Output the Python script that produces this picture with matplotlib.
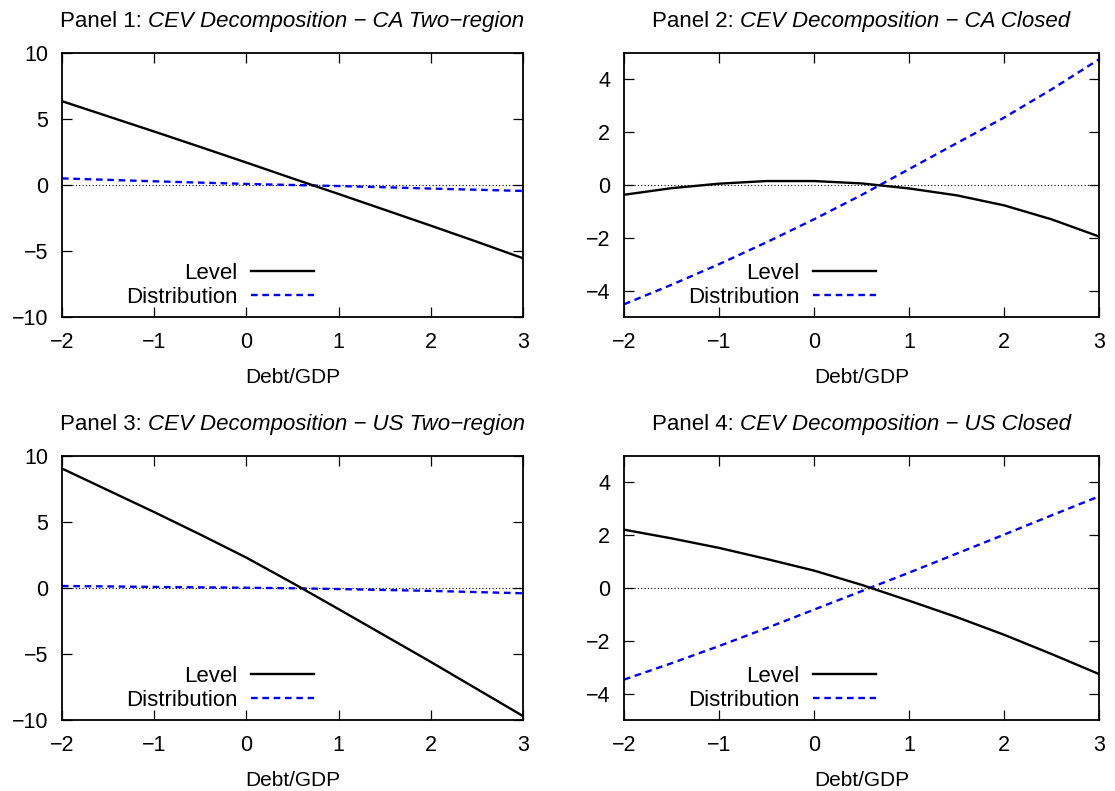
import numpy as np
import matplotlib
matplotlib.use("Agg")
import matplotlib.pyplot as plt
from matplotlib.offsetbox import TextArea, HPacker, AnchoredOffsetbox

plt.rcParams['font.family'] = ['Liberation Sans', 'DejaVu Sans']
plt.rcParams['font.size'] = 16

debt_gdp = [-2.0, -1.5, -1.0, -0.5, 0.0, 0.5, 1.0, 1.5, 2.0, 2.5, 3.0]

ca_two_level = [6.35, 5.2, 4.05, 2.88, 1.7, 0.5, -0.68, -1.88, -3.08, -4.3, -5.55]
ca_two_dist = [0.5, 0.39, 0.28, 0.18, 0.08, 0.0, -0.08, -0.17, -0.27, -0.36, -0.45]

ca_closed_level = [-0.37, -0.12, 0.05, 0.15, 0.15, 0.06, -0.13, -0.39, -0.77, -1.3, -1.95]
ca_closed_dist = [-4.52, -3.78, -3.0, -2.17, -1.3, -0.38, 0.6, 1.58, 2.55, 3.62, 4.76]

us_two_level = [9.05, 7.4, 5.75, 4.05, 2.3, 0.38, -1.6, -3.6, -5.6, -7.65, -9.7]
us_two_dist = [0.15, 0.12, 0.08, 0.05, 0.02, -0.02, -0.08, -0.15, -0.22, -0.31, -0.4]

us_closed_level = [2.21, 1.88, 1.52, 1.1, 0.66, 0.12, -0.48, -1.1, -1.77, -2.5, -3.26]
us_closed_dist = [-3.47, -2.85, -2.2, -1.52, -0.82, -0.12, 0.58, 1.3, 2.02, 2.75, 3.47]

panel_names = ["CA Two\u2212region", "CA Closed", "US Two\u2212region", "US Closed"]
x_ticks = [-2, -1, 0, 1, 2, 3]
wide_ticks = [-10, -5, 0, 5, 10]
narrow_ticks = [-4, -2, 0, 2, 4]

W, H = 1115, 791
# axes boxes in pixels: left, top, right, bottom
_BOXES = [
    (62, 53, 523, 317),
    (624, 53, 1099, 317),
    (62, 456, 523, 720),
    (624, 456, 1099, 720),
]


def _px_axes(fig, box):
    l, t, r, b = box
    return fig.add_axes([l / W, 1 - b / H, (r - l) / W, (b - t) / H])


def _title(ax, n, name):
    first = TextArea(f"Panel {n}: ", textprops=dict(fontsize=16))
    second = TextArea(f"CEV Decomposition \u2212 {name}",
                      textprops=dict(fontsize=16, style='italic'))
    box = HPacker(children=[first, second], align='baseline', pad=0, sep=0)
    anchored = AnchoredOffsetbox(loc='lower center', child=box, pad=0, borderpad=0,
                                 frameon=False, bbox_to_anchor=(0.5, 1.08),
                                 bbox_transform=ax.transAxes)
    ax.add_artist(anchored)


def _panel(fig, box, n, name, level, dist, yticks, ylim):
    ax = _px_axes(fig, box)
    ax.axhline(0, color='k', lw=0.8, linestyle=(0, (1, 2)), zorder=1)
    ax.plot(debt_gdp, level, color='k', lw=1.7, label='Level', zorder=3)
    ax.plot(debt_gdp, dist, color='#0000ff', lw=1.7, linestyle=(0, (2.8, 2)),
            label='Distribution', zorder=2)
    ax.set_xlim(-2, 3)
    ax.set_ylim(*ylim)
    ax.set_xticks(x_ticks)
    ax.set_yticks(yticks)
    ax.tick_params(direction='in', length=7, width=0.9, top=True, right=True,
                   labelsize=15.5)
    ax.tick_params(axis='x', pad=10.5)
    ax.tick_params(axis='y', pad=10)
    for s in ax.spines.values():
        s.set_linewidth(1.3)
    ax.set_xlabel("Debt/GDP", fontsize=15, labelpad=11)
    _title(ax, n, name)

    width_px = box[2] - box[0]
    ax.legend(loc='lower right', bbox_to_anchor=(252 / width_px, 0.035),
              frameon=False, markerfirst=False, handlelength=2.85,
              handletextpad=0.6, labelspacing=0.12, borderpad=0, borderaxespad=0,
              fontsize=16)
    return ax


fig = plt.figure(figsize=(W / 100, H / 100), dpi=100)

_panel(fig, _BOXES[0], 1, panel_names[0], ca_two_level, ca_two_dist, wide_ticks, (-10, 10))
_panel(fig, _BOXES[1], 2, panel_names[1], ca_closed_level, ca_closed_dist, narrow_ticks, (-5, 5))
_panel(fig, _BOXES[2], 3, panel_names[2], us_two_level, us_two_dist, wide_ticks, (-10, 10))
_panel(fig, _BOXES[3], 4, panel_names[3], us_closed_level, us_closed_dist, narrow_ticks, (-5, 5))

fig.savefig("out.png", dpi=100)
